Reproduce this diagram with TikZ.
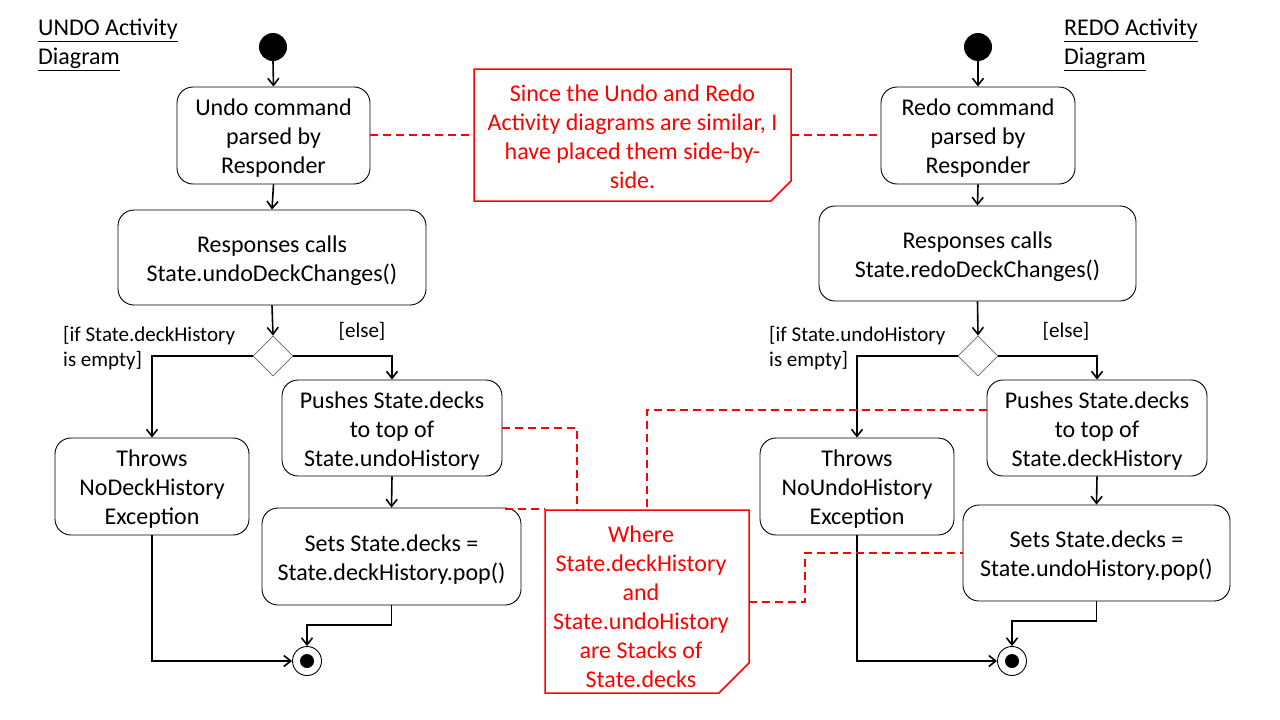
\documentclass[tikz,border=0pt]{standalone}
\usepackage{fontspec}
\setmainfont{Carlito}
\usetikzlibrary{arrows.meta,shapes.geometric}
\definecolor{notered}{RGB}{255,0,0}
\newcommand{\toppad}{\rule{0pt}{\dimexpr\fontcharht\font`l+6pt\relax}}
\begin{document}
\begin{tikzpicture}[x=1pt,y=-1pt,
  act/.style={draw, rounded corners=16pt, line width=0.9pt, align=center, font=\fontsize{24}{29}\selectfont, inner sep=0pt},
  flow/.style={line width=1.6pt, -{Straight Barb[length=7pt,width=11pt]}},
  dec/.style={diamond, draw=black!60, line width=0.8pt, minimum width=40pt, minimum height=40pt, inner sep=0pt},
  startnode/.style={circle, fill=black, minimum size=28pt, inner sep=0pt},
  final/.style={circle, draw, line width=0.9pt, minimum size=29pt, inner sep=0pt},
  guard/.style={font=\fontsize{21}{25}\selectfont, align=left, inner sep=0pt},
  titlenode/.style={font=\fontsize{24}{29}\selectfont, align=left, inner sep=0pt, anchor=west},
  notebox/.style={draw=notered, line width=1.5pt},
  notetext/.style={text=notered, font=\fontsize{24}{29}\selectfont, align=center, inner sep=0pt},
  link/.style={draw=notered, line width=1.5pt, dash pattern=on 8pt off 5pt},
]
\useasboundingbox (0,0) rectangle (1280,720);

% titles
\node[titlenode] (tu) at (38,45) {\underline{UNDO Activity}\\\underline{Diagram}};
\node[titlenode] (tr) at (1064,45) {\underline{REDO Activity}\\\underline{Diagram}};

% ---------- UNDO ----------
\node[startnode] (us0) at (273,47) {};
\node[act, minimum width=193pt, minimum height=97pt] (u1) at (273.5,135.5) {\toppad Undo command\\parsed by\\Responder};
\node[act, minimum width=308pt, minimum height=95pt] (u2) at (272,257.5) {\toppad Responses calls\\State.undoDeckChanges()};
\node[dec] (ud) at (273,356) {};
\node[act, minimum width=194pt, minimum height=97pt] (ut) at (152,486.5) {\toppad Throws\\NoDeckHistory\\Exception};
\node[act, minimum width=220pt, minimum height=96pt] (up) at (392,428) {\toppad Pushes State.decks\\to top of\\State.undoHistory};
\node[act, minimum width=259pt, minimum height=97pt] (us) at (391.5,556.5) {\toppad Sets State.decks =\\State.deckHistory.pop()};
\node[final] (ue) at (307,661) {};
\fill (ue.center) circle (7);
\node[guard, anchor=west] (ug1) at (63,348.5) {[if State.deckHistory\\is empty]};
\node[guard] (ug2) at (362,331) {[else]};

\draw[flow] (us0.south) -- (u1.north);
\draw[flow] (u1.south) -- (u2.north);
\draw[flow] (u2.south) -- (ud.north);
\draw[flow] (ud.west) -| (ut.north);
\draw[flow] (ud.east) -| (up.north);
\draw[flow] (up.south) -- (us.north);
\draw[flow] (ut.south) |- (ue.west);
\coordinate (uk) at (391.5,625);
\draw[flow] (us.south) -- (uk) -| (ue.north);

% ---------- REDO ----------
\node[startnode] (rs0) at (978,47) {};
\node[act, minimum width=194pt, minimum height=97pt] (r1) at (978,135.5) {\toppad Redo command\\parsed by\\Responder};
\node[act, minimum width=317pt, minimum height=95pt] (r2) at (977.5,253.5) {\toppad Responses calls\\State.redoDeckChanges()};
\node[dec] (rd) at (978,356) {};
\node[act, minimum width=194pt, minimum height=97pt] (rt) at (857,486.5) {\toppad Throws\\NoUndoHistory\\Exception};
\node[act, minimum width=220pt, minimum height=96pt] (rp) at (1097,428) {\toppad Pushes State.decks\\to top of\\State.deckHistory};
\node[act, minimum width=267pt, minimum height=96pt] (rs) at (1096.5,553) {\toppad Sets State.decks =\\State.undoHistory.pop()};
\node[final] (re) at (1012,661) {};
\fill (re.center) circle (7);
\node[guard, anchor=west] (rg1) at (769,348.5) {[if State.undoHistory\\is empty]};
\node[guard] (rg2) at (1066,331) {[else]};

\draw[flow] (rs0.south) -- (r1.north);
\draw[flow] (r1.south) -- (r2.north);
\draw[flow] (r2.south) -- (rd.north);
\draw[flow] (rd.west) -| (rt.north);
\draw[flow] (rd.east) -| (rp.north);
\draw[flow] (rp.south) -- (rs.north);
\draw[flow] (rt.south) |- (re.west);
\coordinate (rk) at (1096.5,621);
\draw[flow] (rs.south) -- (rk) -| (re.north);

% ---------- notes ----------
\draw[notebox, fill=white] (474,69) -- (791,69) -- (791,181) -- (771,201) -- (474,201) -- cycle;
\node[notetext] (n1) at (632.5,137) {Since the Undo and Redo\\Activity diagrams are similar, I\\have placed them side-by-\\side.};
\coordinate (n1w) at (474,135);
\coordinate (n1e) at (791,135);
\coordinate (u1e) at (370,135);
\coordinate (r1w) at (881,135);

\draw[notebox, fill=white] (545,510) -- (749,510) -- (749,663) -- (719,693) -- (545,693) -- cycle;
\node[notetext] (n2) at (641,606.5) {Where\\State.deckHistory\\and\\State.undoHistory\\are Stacks of\\State.decks};
\coordinate (n2a) at (577,510);
\coordinate (n2b) at (647,510);
\coordinate (n2nw) at (545,509);
\coordinate (n2e) at (749,602);
\coordinate (usk) at (505,509);
\coordinate (rpw) at (987,410);
\coordinate (rsk) at (805,553);

\draw[link] (u1e) -- (n1w);
\draw[link] (n1e) -- (r1w);
\draw[link] (up.east) -| (n2a);
\draw[link] (usk) -- (n2nw);
\draw[link] (rpw) -| (n2b);
\draw[link] (n2e) -| (rsk) -- (rs.west);
\end{tikzpicture}
\end{document}
